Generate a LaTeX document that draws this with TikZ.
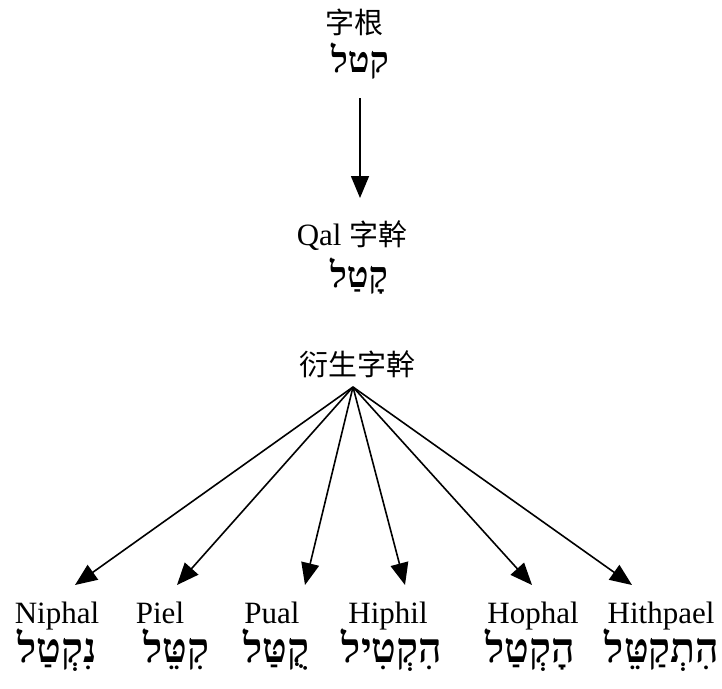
\documentclass[tikz,border=0pt]{standalone}
\usepackage{fontspec}
\setmainfont{Liberation Serif}
\newfontfamily\cjk{Noto Sans CJK TC}
\newfontfamily\heb[Script=Hebrew]{Liberation Serif Bold}
\TeXXeTstate=1
\usetikzlibrary{arrows.meta}
\tikzset{
  lbl/.style={inner sep=0pt, anchor=base, font=\fontsize{31}{33}\selectfont},
  hebt/.style={inner sep=0pt, anchor=base, font=\fontsize{36}{38}\selectfont\heb},
  hebb/.style={inner sep=0pt, anchor=base, font=\fontsize{41}{43}\selectfont\heb},
  cjkt/.style={inner sep=0pt, anchor=base, font=\fontsize{29}{31}\selectfont\cjk},
  arr/.style={line width=1.6pt, -{Triangle[length=22pt,width=18pt]}}
}
\begin{document}
\begin{tikzpicture}[x=1pt,y=-1pt]
\useasboundingbox (0,0) rectangle (722,688);
% top
\node[cjkt] (root) at (354,33) {字根};
\node[hebt] (rootheb) at (360,72) {\beginR קטל\endR};
\node[lbl] (qal) at (352,245) {Qal {\cjk\fontsize{29}{31}\selectfont 字幹}};
\node[hebt] (qalheb) at (359,287) {\beginR קָטַל\endR};
\node[cjkt] (der) at (357,375) {衍生字幹};
\draw[arr] ([yshift=-26pt]rootheb.base) -- ([xshift=8pt,yshift=47pt]qal.base);
% bottom labels
\node[lbl] (niphal) at (57,623) {Niphal};
\node[lbl] (piel) at (160,623) {Piel};
\node[lbl] (pual) at (272,623) {Pual};
\node[lbl] (hiphil) at (388,623) {Hiphil};
\node[lbl] (hophal) at (533,623) {Hophal};
\node[lbl] (hithpael) at (661,623) {Hithpael};
\node[hebb] (hniphal) at (57,662) {\beginR נִקְטַל\endR};
\node[hebb] (hpiel) at (176,662) {\beginR קִטֵּל\endR};
\node[hebb] (hpual) at (276,662) {\beginR קֻטַּל\endR};
\node[hebb] (hhiphil) at (392,662) {\beginR הִקְטִיל\endR};
\node[hebb] (hhophal) at (530,662) {\beginR הָקְטַל\endR};
\node[hebb] (hhithpael) at (662,662) {\beginR הִתְקַטֵּל\endR};
% arrows
\coordinate (apex) at ([xshift=-4pt,yshift=-12pt]der.base);
\draw[arr] (apex) -- ([xshift=18pt,yshift=38pt]niphal.base);
\draw[arr] (apex) -- ([xshift=17pt,yshift=38pt]piel.base);
\draw[arr] (apex) -- ([xshift=33pt,yshift=38pt]pual.base);
\draw[arr] (apex) -- ([xshift=17pt,yshift=38pt]hiphil.base);
\draw[arr] (apex) -- ([xshift=-1pt,yshift=38pt]hophal.base);
\draw[arr] (apex) -- ([xshift=-29pt,yshift=38pt]hithpael.base);
\end{tikzpicture}
\end{document}
